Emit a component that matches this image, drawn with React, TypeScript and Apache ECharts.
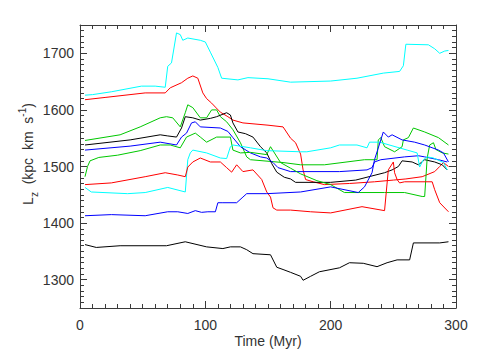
import React, { useEffect, useRef } from 'react';
import * as echarts from 'echarts';

// Time (Myr) vs L_z (kpc km s^-1): each series is a list of [time, Lz]
const cyanTop = [[4,1626],[10,1627],[25,1632],[49,1642],[60,1642],[68,1640],[70,1677],[73,1683],[77,1736],[80,1733],[82,1723],[86,1727],[96,1723],[100,1720],[104,1702],[110,1675],[113,1656],[126,1653],[134,1657],[150,1655],[168,1649],[200,1651],[221,1656],[242,1665],[255,1668],[258,1678],[260,1716],[278,1715],[283,1708],[287,1700],[291,1704],[294,1705]];
const redTop = [[4,1618],[20,1622],[52,1630],[68,1630],[72,1639],[81,1648],[86,1656],[90,1660],[94,1656],[98,1630],[101,1620],[105,1612],[108,1605],[112,1596],[118,1588],[122,1582],[130,1577],[150,1573],[162,1570],[168,1550],[172,1542],[176,1522],[178,1494],[180,1477],[186,1473],[195,1468],[215,1470],[235,1473],[250,1476],[260,1478],[273,1482],[283,1491],[287,1500],[290,1507],[294,1500]];
const greenTop = [[4,1546],[32,1556],[48,1570],[64,1586],[69,1588],[74,1586],[80,1570],[84,1595],[86,1609],[90,1604],[96,1586],[101,1586],[105,1600],[109,1600],[112,1588],[117,1579],[122,1565],[128,1542],[133,1517],[136,1512],[162,1507],[176,1503],[195,1503],[227,1512],[237,1512],[238,1547],[240,1551],[243,1535],[251,1526],[257,1535],[258,1547],[262,1551],[266,1568],[275,1561],[286,1551],[294,1538]];
const blackTop = [[4,1538],[40,1547],[64,1556],[70,1554],[77,1552],[81,1568],[84,1588],[90,1586],[96,1582],[104,1585],[109,1588],[117,1595],[120,1591],[122,1577],[126,1561],[132,1558],[138,1552],[144,1535],[149,1524],[153,1505],[157,1490],[163,1481],[168,1478],[172,1472],[200,1472],[220,1476],[243,1489],[249,1494],[254,1500],[257,1510],[265,1508],[270,1503],[275,1512],[283,1508],[289,1503],[293,1494]];
const blueTop = [[4,1529],[40,1536],[64,1543],[77,1538],[81,1552],[85,1559],[89,1577],[92,1579],[96,1570],[112,1568],[118,1562],[122,1551],[128,1535],[136,1524],[144,1517],[149,1515],[154,1507],[158,1498],[168,1491],[207,1491],[229,1494],[233,1498],[235,1508],[240,1512],[259,1517],[270,1519],[275,1517],[286,1512],[293,1508]];
const greenLow = [[4,1482],[6,1500],[8,1510],[15,1516],[30,1520],[48,1528],[64,1538],[72,1538],[80,1533],[85,1552],[92,1559],[96,1552],[101,1543],[109,1552],[120,1552],[122,1529],[128,1524],[136,1525],[149,1521],[152,1535],[160,1507],[168,1497],[176,1487],[189,1475],[200,1468],[211,1454],[243,1454],[259,1454],[273,1447],[275,1447],[277,1515],[279,1538],[282,1542],[284,1530],[289,1524],[294,1522]];
const cyanLow = [[4,1463],[9,1455],[38,1452],[52,1454],[70,1463],[84,1455],[86,1512],[88,1524],[90,1529],[101,1524],[112,1515],[117,1514],[120,1535],[122,1538],[136,1533],[149,1528],[176,1526],[181,1526],[200,1533],[207,1538],[221,1538],[229,1533],[231,1543],[239,1543],[261,1529],[269,1524],[271,1499],[274,1512],[277,1517],[282,1515],[290,1507],[293,1494]];
const redLow = [[4,1468],[25,1471],[52,1482],[68,1489],[78,1485],[84,1482],[86,1499],[90,1508],[96,1515],[104,1508],[112,1508],[117,1498],[121,1490],[125,1503],[130,1491],[138,1494],[145,1477],[149,1455],[152,1446],[154,1427],[157,1423],[168,1423],[184,1420],[200,1418],[225,1429],[243,1422],[246,1494],[250,1508],[251,1489],[253,1477],[255,1471],[259,1473],[281,1473],[283,1459],[287,1436],[294,1420]];
const blueLow = [[4,1413],[25,1415],[52,1413],[70,1420],[78,1420],[86,1417],[92,1422],[97,1419],[102,1420],[108,1420],[110,1436],[114,1436],[125,1436],[130,1446],[133,1452],[149,1452],[176,1455],[200,1464],[222,1454],[227,1464],[233,1489],[235,1512],[242,1561],[246,1552],[249,1556],[257,1547],[267,1543],[275,1538],[286,1529],[290,1524],[294,1508]];
const blackLow = [[4,1362],[13,1357],[32,1360],[69,1360],[84,1367],[101,1358],[114,1355],[120,1358],[128,1358],[133,1353],[138,1346],[152,1344],[157,1322],[162,1318],[168,1313],[176,1306],[178,1299],[184,1306],[191,1314],[207,1321],[215,1330],[226,1329],[237,1323],[245,1330],[253,1335],[263,1335],[266,1365],[287,1365],[294,1367]];

const xTickLabels = [0, 100, 200, 300];
const yTickLabels = [1300, 1400, 1500, 1600, 1700];

const FONT = 'Liberation Sans, Arial, sans-serif';
const AXIS_COLOR = '#3a3a3a';

export default function App() {
  const ref = useRef<HTMLDivElement>(null);
  useEffect(() => {
    const chart = echarts.init(ref.current!, null, { renderer: 'svg' });
    const defs = [
      { data: cyanTop, color: '#00ffff' },
      { data: redTop, color: '#ff0000' },
      { data: greenTop, color: '#00c800' },
      { data: blackTop, color: '#000000' },
      { data: blueTop, color: '#0000ff' },
      { data: greenLow, color: '#00c800' },
      { data: cyanLow, color: '#00ffff' },
      { data: redLow, color: '#ff0000' },
      { data: blueLow, color: '#0000ff' },
      { data: blackLow, color: '#000000' },
    ];
    const tick = { show: true, inside: true, length: 7, lineStyle: { color: AXIS_COLOR, width: 1 } };
    const minor = { show: true, splitNumber: 10, length: 4, lineStyle: { color: AXIS_COLOR, width: 1 } };
    const line = { show: true, onZero: false, lineStyle: { color: AXIS_COLOR, width: 1 } };
    const xBase = {
      type: 'value', min: 0, max: 300, interval: 100,
      axisLine: line, axisTick: tick, minorTick: minor,
      splitLine: { show: false }, minorSplitLine: { show: false },
    };
    const yBase = {
      type: 'value', min: 1250, max: 1750, splitNumber: 5, scale: true,
      axisLine: line, axisTick: tick, minorTick: minor,
      splitLine: { show: false }, minorSplitLine: { show: false },
    };
    chart.setOption({
      animation: false,
      backgroundColor: '#ffffff',
      grid: { left: 80, right: 23, top: 25, bottom: 52, containLabel: false },
      xAxis: [
        { ...xBase, position: 'bottom',
          axisLabel: { show: true, margin: 10, fontSize: 14, fontFamily: FONT, color: '#333',
            formatter: (v: number) => (xTickLabels.includes(v) ? String(v) : '') } },
        { ...xBase, position: 'top', axisLabel: { show: false } },
      ],
      yAxis: [
        { ...yBase, position: 'left',
          axisLabel: { show: true, margin: 6, fontSize: 14, fontFamily: FONT, color: '#333',
            formatter: (v: number) => (yTickLabels.includes(v) ? String(v) : '') } },
        { ...yBase, position: 'right', axisLabel: { show: false } },
      ],
      graphic: [
        { type: 'text', x: 268, y: 341, style: { text: 'Time (Myr)', fontSize: 14, fontFamily: FONT, fill: '#333', align: 'center', verticalAlign: 'middle' } },
        { type: 'text', x: 28, y: 154, rotation: Math.PI / 2,
          style: {
            text: '{n|L}{sub|z}{n|  (kpc  km  s}{sup|-1}{n|)}',
            align: 'center', verticalAlign: 'middle',
            rich: {
              n: { fontSize: 14, fontFamily: FONT, fill: '#333', lineHeight: 22, verticalAlign: 'middle' },
              sub: { fontSize: 10, fontFamily: FONT, fill: '#333', verticalAlign: 'bottom' },
              sup: { fontSize: 10, fontFamily: FONT, fill: '#333', verticalAlign: 'top' },
            },
          } },
      ],
      series: defs.map((d) => ({
        type: 'line', xAxisIndex: 0, yAxisIndex: 0, data: d.data, showSymbol: false, symbol: 'none',
        lineStyle: { color: d.color, width: 1 }, itemStyle: { color: d.color }, silent: true,
      })),
    });
    return () => chart.dispose();
  }, []);
  return <div ref={ref} style={{ position: 'absolute', left: 0, top: 0, width: 479, height: 360 }} />;
}
